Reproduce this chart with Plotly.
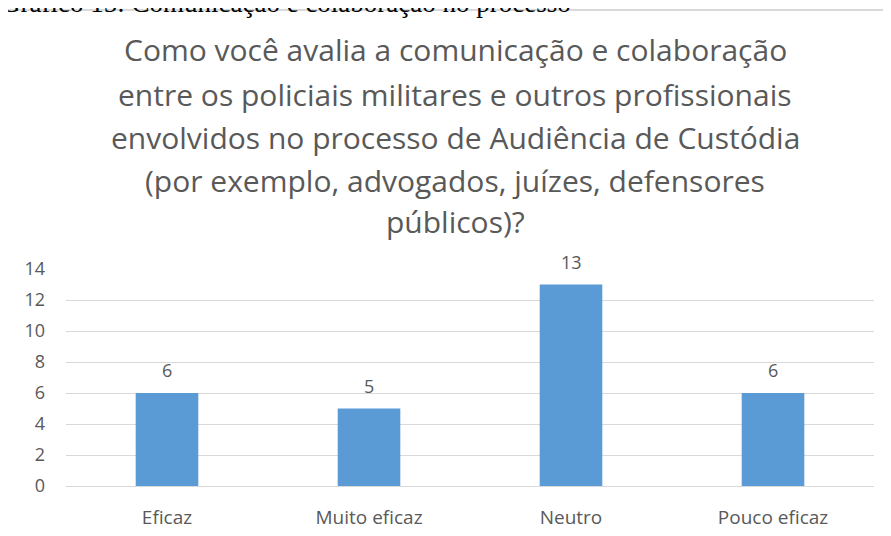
import plotly.graph_objects as go

# data
categories = ['Eficaz', 'Muito eficaz', 'Neutro', 'Pouco eficaz']
values = [6, 5, 13, 6]
y_ticks = [0, 2, 4, 6, 8, 10, 12, 14]
title_lines = [
    'Como você avalia a comunicação e colaboração',
    'entre os policiais militares e outros profissionais',
    'envolvidos no processo de Audiência de Custódia',
    '(por exemplo, advogados, juízes, defensores',
    'públicos)?',
]
caption = 'Gráfico 15: Comunicação e colaboração no processo'

# page body has an 8px margin, so the figure sits at (8, 8) in the window
OFF = 8
W, H = 891, 536
L, R, T, B = 66 - OFF, 25, 269 - OFF, 58
plot_h = H - T - B
plot_w = W - L - R


def py(pix):
    # window pixel row -> paper y
    return (H - B - (pix - OFF)) / plot_h


def px(pix):
    return (pix - OFF - L) / plot_w


grey = '#595959'
font = 'Open Sans'

fig = go.Figure()
fig.add_trace(go.Bar(
    x=categories,
    y=values,
    width=0.31,
    marker_color='#5B9BD5',
    marker_line_width=0,
    hoverinfo='x+y'
))

annotations = []
# data labels
for c, v in zip(categories, values):
    annotations.append(dict(
        x=c, y=v, xref='x', yref='y', text=str(v), showarrow=False,
        yanchor='bottom', yshift=9, font=dict(family=font, size=18, color=grey)
    ))
# title lines
title_y = [50, 94, 137, 180, 221]
for line, yy in zip(title_lines, title_y):
    annotations.append(dict(
        x=px(455), y=py(yy), xref='paper', yref='paper', text=line, showarrow=False,
        xanchor='center', yanchor='middle', font=dict(family=font, size=30, color=grey)
    ))
# caption above the chart box (cut by the page edge)
annotations.append(dict(
    x=px(-1), y=py(3), xref='paper', yref='paper', text=caption, showarrow=False,
    xanchor='left', yanchor='middle',
    font=dict(family='Liberation Serif', size=27, color='black')
))

fig.update_layout(
    width=W, height=H,
    margin=dict(l=L, r=R, t=T, b=B),
    paper_bgcolor='white',
    plot_bgcolor='white',
    showlegend=False,
    annotations=annotations,
    shapes=[dict(
        type='rect', xref='paper', yref='paper',
        x0=px(5), x1=px(910), y0=py(560), y1=py(10),
        line=dict(color='#d9d9d9', width=2), layer='below'
    )],
)
fig.update_xaxes(
    showgrid=False, showline=False, ticks='', ticklabelstandoff=18,
    tickfont=dict(family=font, size=19, color=grey)
)
fig.update_yaxes(
    range=[0, 14], tickvals=y_ticks, showgrid=True, gridcolor='#d9d9d9', gridwidth=1,
    zeroline=True, zerolinecolor='#d9d9d9', zerolinewidth=1, showline=False,
    ticklabelstandoff=20, tickfont=dict(family=font, size=18, color=grey)
)

fig.write_html('out.html', config={'displayModeBar': False})
